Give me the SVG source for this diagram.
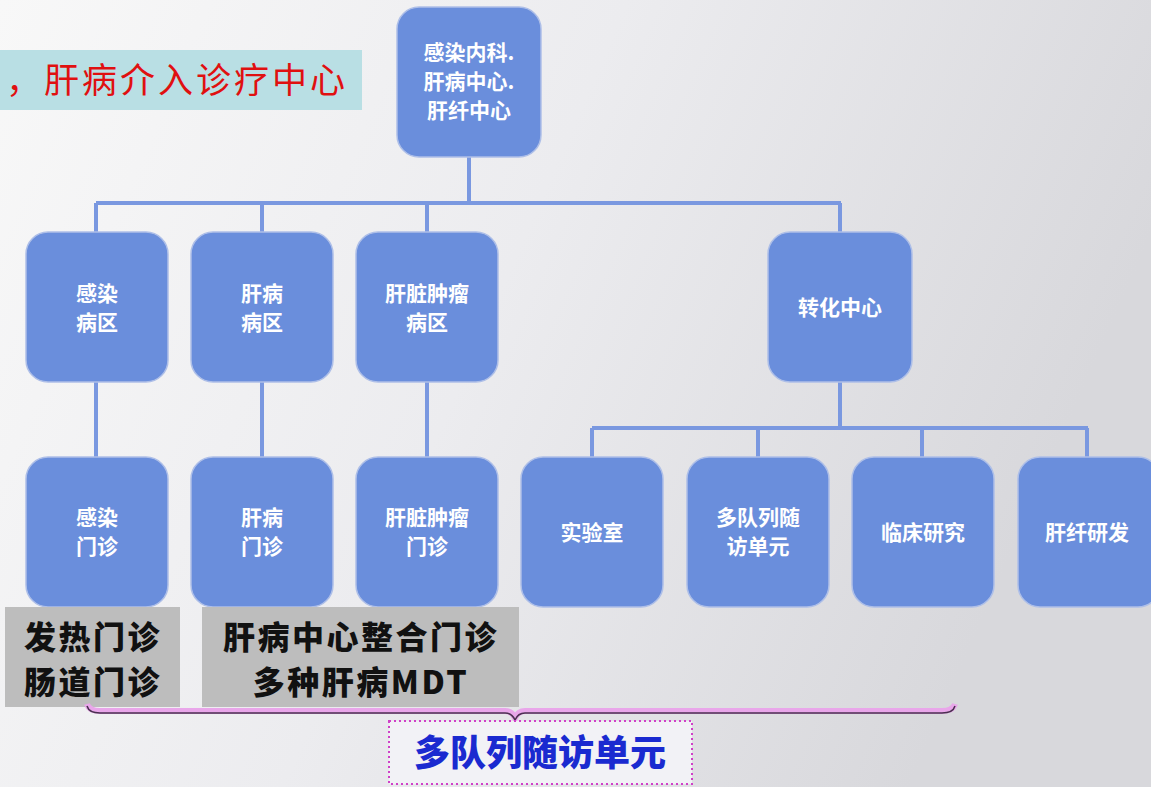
<svg xmlns="http://www.w3.org/2000/svg" width="1151" height="787" viewBox="0 0 1151 787">
<defs>
<linearGradient id="bg" x1="0" y1="0" x2="1" y2="0.3">
<stop offset="0" stop-color="#f8f8f8"/>
<stop offset="0.5" stop-color="#ececef"/>
<stop offset="1" stop-color="#d8d8dc"/>
</linearGradient>
<style>
.node{fill:#6a8edc;stroke:#aebfe8;stroke-width:1.5}
.nt{font-family:"Noto Sans CJK SC","Liberation Sans",sans-serif;font-size:21px;font-weight:bold;fill:#ffffff;text-anchor:middle}
.conn{stroke:#7a98e0;stroke-width:4;fill:none}
.gray{fill:#bdbdbd}
.gt{font-family:"Noto Sans CJK SC","Liberation Sans",sans-serif;font-size:32px;letter-spacing:2.5px;font-weight:900;fill:#111111;text-anchor:middle}
</style>
</defs>
<rect x="0" y="0" width="1151" height="787" fill="url(#bg)"/>

<g id="title">
<rect x="0" y="50" width="362" height="60" fill="#b9dfe4"/>
<text x="6" y="93" font-family="'Noto Sans CJK SC','Liberation Serif',serif" font-size="35" letter-spacing="3" fill="#e01010">，肝病介入诊疗中心</text>
</g>

<g id="connectors">
<path class="conn" d="M469 157 V203 M96 203 H841 M96 203 V232 M262 203 V232 M427 203 V232 M840 203 V232"/>
<path class="conn" d="M96 382 V457 M262 382 V457 M427 382 V457"/>
<path class="conn" d="M840 382 V428 M592 428 H1088 M592 428 V457 M758 428 V457 M922 428 V457 M1087 428 V457"/>
</g>

<g id="n-root">
<rect class="node" x="397" y="7" width="144" height="150" rx="22"/>
<text class="nt" x="469" y="60">感染内科.</text>
<text class="nt" x="469" y="89">肝病中心.</text>
<text class="nt" x="469" y="118">肝纤中心</text>
</g>

<g id="n-ganran-bingqu">
<rect class="node" x="26" y="232" width="142" height="150" rx="22"/>
<text class="nt" x="97" y="301">感染</text>
<text class="nt" x="97" y="330">病区</text>
</g>
<g id="n-ganbing-bingqu">
<rect class="node" x="191" y="232" width="142" height="150" rx="22"/>
<text class="nt" x="262" y="301">肝病</text>
<text class="nt" x="262" y="330">病区</text>
</g>
<g id="n-zhongliu-bingqu">
<rect class="node" x="356" y="232" width="142" height="150" rx="22"/>
<text class="nt" x="427" y="301">肝脏肿瘤</text>
<text class="nt" x="427" y="330">病区</text>
</g>
<g id="n-zhuanhua">
<rect class="node" x="768" y="232" width="144" height="150" rx="22"/>
<text class="nt" x="840" y="315">转化中心</text>
</g>

<g id="n-ganran-menzhen">
<rect class="node" x="26" y="457" width="142" height="150" rx="22"/>
<text class="nt" x="97" y="525">感染</text>
<text class="nt" x="97" y="554">门诊</text>
</g>
<g id="n-ganbing-menzhen">
<rect class="node" x="191" y="457" width="142" height="150" rx="22"/>
<text class="nt" x="262" y="525">肝病</text>
<text class="nt" x="262" y="554">门诊</text>
</g>
<g id="n-zhongliu-menzhen">
<rect class="node" x="356" y="457" width="142" height="150" rx="22"/>
<text class="nt" x="427" y="525">肝脏肿瘤</text>
<text class="nt" x="427" y="554">门诊</text>
</g>

<g id="n-shiyanshi">
<rect class="node" x="521" y="457" width="142" height="150" rx="22"/>
<text class="nt" x="592" y="540">实验室</text>
</g>
<g id="n-duiliesuifang">
<rect class="node" x="687" y="457" width="142" height="150" rx="22"/>
<text class="nt" x="758" y="525">多队列随</text>
<text class="nt" x="758" y="554">访单元</text>
</g>
<g id="n-linchuang">
<rect class="node" x="852" y="457" width="142" height="150" rx="22"/>
<text class="nt" x="923" y="540">临床研究</text>
</g>
<g id="n-ganxian">
<rect class="node" x="1018" y="457" width="142" height="150" rx="22"/>
<text class="nt" x="1087" y="540">肝纤研发</text>
</g>

<g id="label-fare">
<rect class="gray" x="5" y="607" width="175" height="100"/>
<text class="gt" x="93" y="649">发热门诊</text>
<text class="gt" x="93" y="694">肠道门诊</text>
</g>
<g id="label-ganbing">
<rect class="gray" x="202" y="607" width="317" height="100"/>
<text class="gt" x="361" y="649">肝病中心整合门诊</text>
<text class="gt" x="361" y="694">多种肝病MDT</text>
</g>

<g id="brace">
<path d="M87 704 Q89 711 100 711 H505 Q512 711 515 718 Q518 711 525 711 H942 Q953 711 955 704" fill="none" stroke="#e9a6ea" stroke-width="6"/>
<path d="M87 706 Q89 713 100 713 H505 Q512 713 515 720 Q518 713 525 713 H942 Q953 713 955 706" fill="none" stroke="#4a3050" stroke-width="1.5"/>
</g>

<g id="n-suifang-unit">
<rect x="389" y="721" width="303" height="63" fill="#f2f2f6" stroke="#d040c8" stroke-width="2" stroke-dasharray="2 3"/>
<text x="540" y="766" font-family="'Noto Sans CJK SC','Liberation Sans',sans-serif" font-size="36" font-weight="900" fill="#1a2ad0" text-anchor="middle">多队列随访单元</text>
</g>
</svg>
